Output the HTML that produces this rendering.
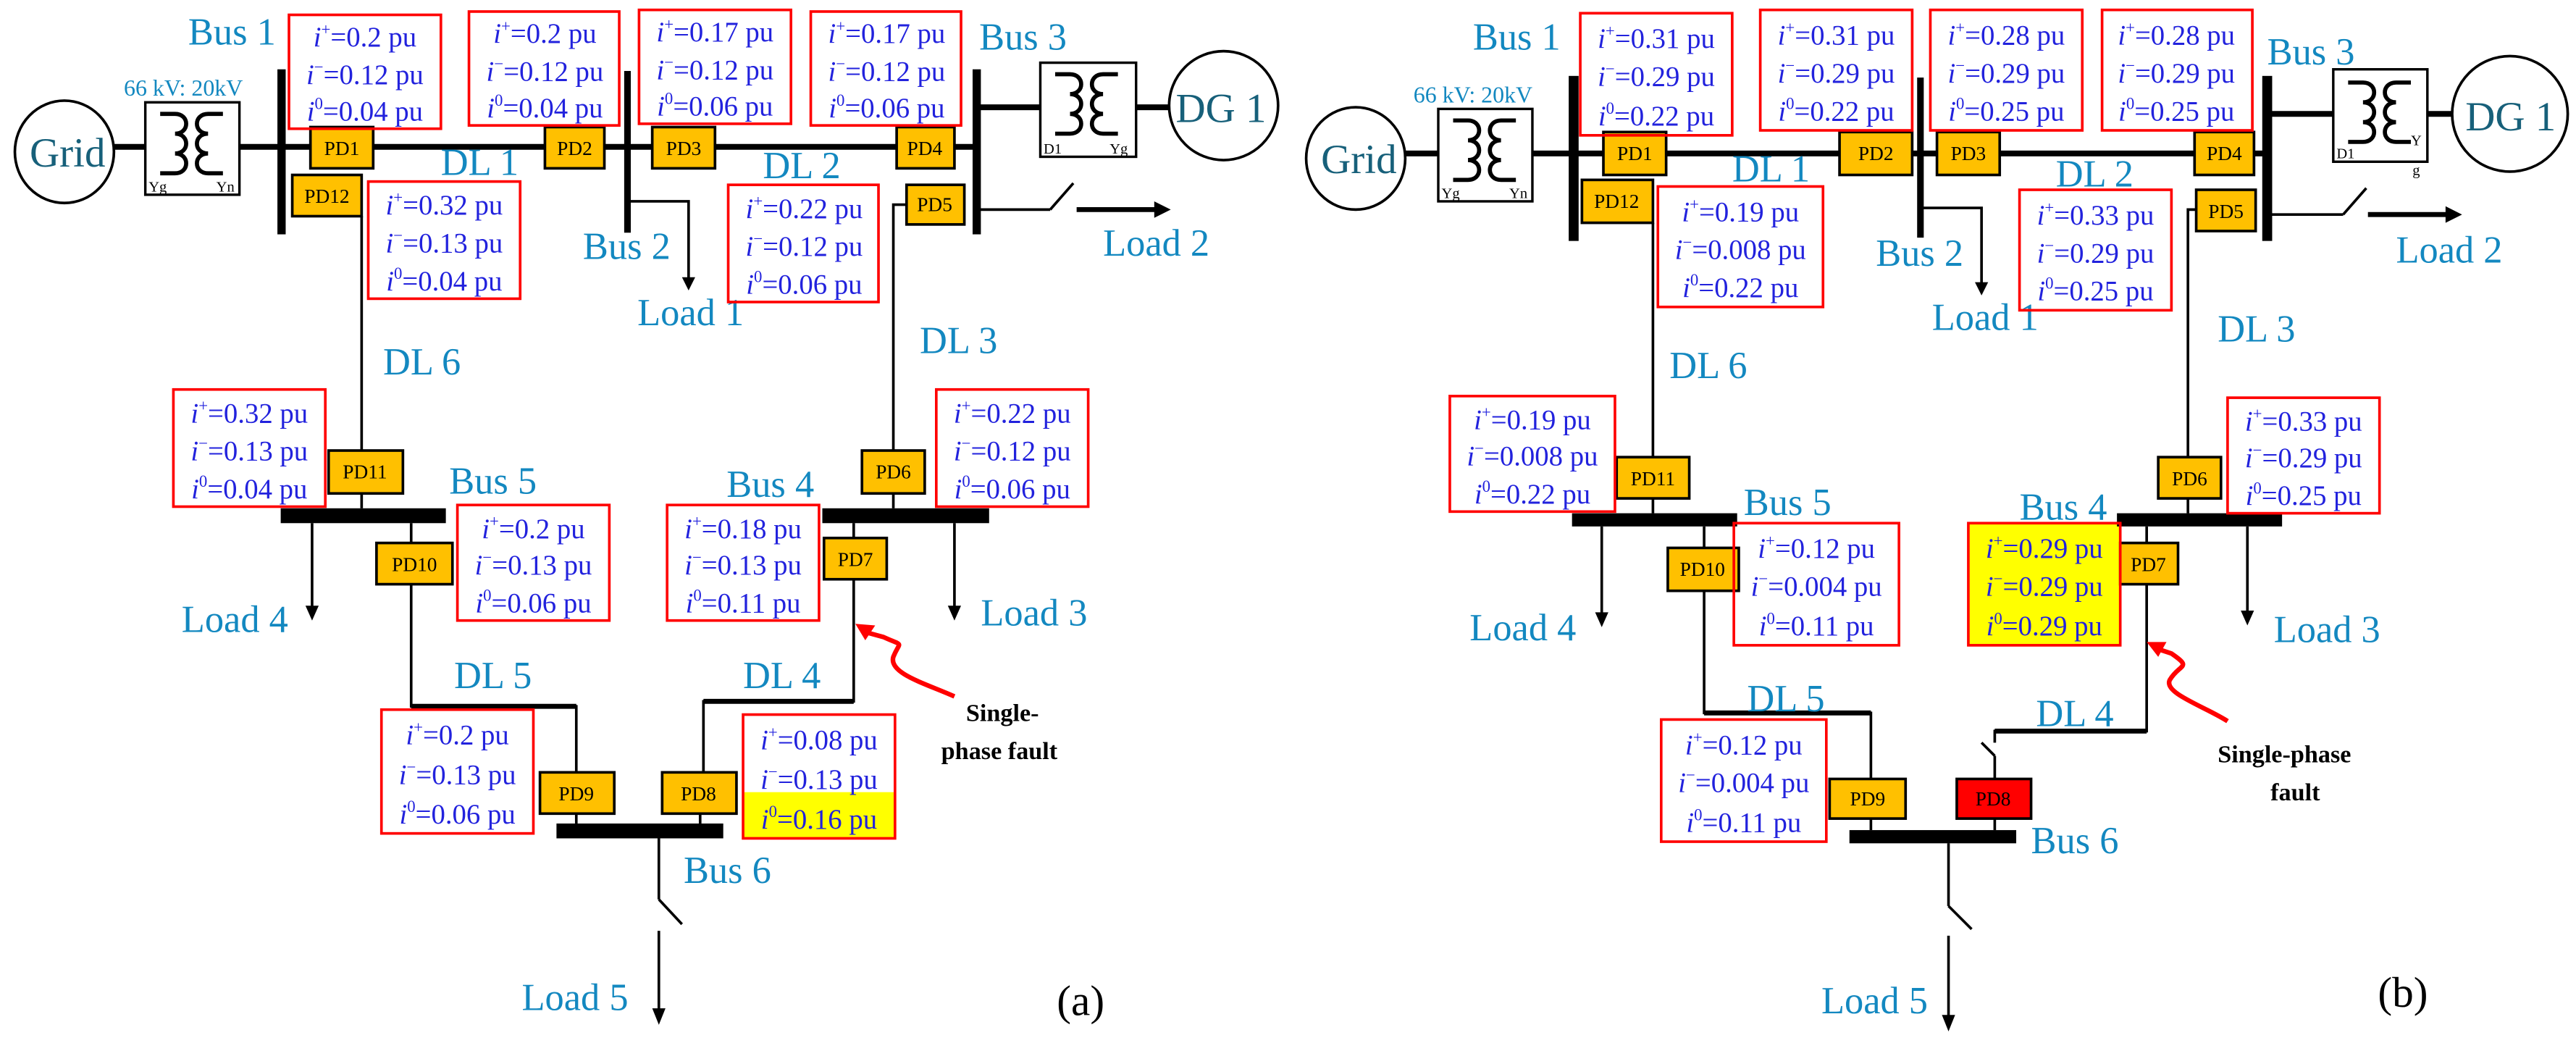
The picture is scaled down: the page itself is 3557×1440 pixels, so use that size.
<!DOCTYPE html>
<html><head><meta charset="utf-8"><style>
html,body{margin:0;padding:0;background:#fff;}
svg{display:block;font-family:"Liberation Serif","Times New Roman",Times,serif}
text{font-family:"Liberation Serif","Times New Roman",Times,serif}
.lb{font-size:23px;fill:#1388c0}
.gd{font-size:25px;fill:#17607a}
.bx{fill:none;stroke:#f00;stroke-width:1.6}
.t{font-size:17px;fill:#2222dd;text-anchor:middle}
.t .i{font-style:italic}
.pd{fill:#ffc000;stroke:#000;stroke-width:1.6}
.pt{font-size:12px;fill:#000;text-anchor:middle}
.ln{stroke:#000;fill:none}
.fb{font-size:15px;font-weight:bold;fill:#000}
.sm{font-size:9px;fill:#000}
</style></head><body>
<svg width="3557" height="1440" viewBox="0 0 1560 632" preserveAspectRatio="none" xmlns="http://www.w3.org/2000/svg" font-family="Liberation Serif, Times New Roman, serif">
<rect x="450" y="480" width="92" height="28" fill="#ff0"/>
<rect x="1192" y="317" width="92" height="74" fill="#ff0"/>
<!-- ================= PANEL A ================= -->
<g class="ln">
<ellipse cx="39" cy="92" rx="30" ry="31" stroke-width="1.6"/>
<line x1="69" y1="89" x2="88" y2="89" stroke-width="3.5"/>
<rect x="88" y="62" width="57" height="56" stroke-width="1.5"/>
<path d="M97,69 h9 c9,0 9,12 0,12 c9,0 9,12 0,12 c9,0 9,12 0,12 h-9" stroke-width="2.5"/>
<path d="M135,69 h-9 c-9,0 -9,12 0,12 c-9,0 -9,12 0,12 c-9,0 -9,12 0,12 h9" stroke-width="2.5"/>
<line x1="145" y1="89" x2="591" y2="89" stroke-width="3.5"/>
<line x1="219" y1="131" x2="219" y2="308" stroke-width="1.6"/>
<polyline points="380,122 417,122 417,170" stroke-width="1.6"/>
<polyline points="549,124 541,124 541,308" stroke-width="1.6"/>
<line x1="591" y1="127" x2="636" y2="127" stroke-width="1.6"/>
<line x1="636" y1="127" x2="650" y2="111" stroke-width="1.6"/>
<line x1="652" y1="127" x2="700" y2="127" stroke-width="3"/>
<line x1="591" y1="65" x2="630" y2="65" stroke-width="3.5"/>
<rect x="630" y="38" width="58" height="57" stroke-width="1.5"/>
<path d="M639,45 h9 c9,0 9,12 0,12 c9,0 9,12 0,12 c9,0 9,12 0,12 h-9" stroke-width="2.5"/>
<path d="M677,45 h-9 c-9,0 -9,12 0,12 c-9,0 -9,12 0,12 c-9,0 -9,12 0,12 h9" stroke-width="2.5"/>
<line x1="688" y1="65" x2="708" y2="65" stroke-width="3.5"/>
<ellipse cx="741" cy="64" rx="33" ry="33" stroke-width="1.6"/>
<line x1="189" y1="317" x2="189" y2="368" stroke-width="1.6"/>
<polyline points="249,317 249,428 349,428 349,468" stroke-width="1.6"/>
<line x1="249" y1="428" x2="349" y2="428" stroke-width="3"/>
<line x1="578" y1="317" x2="578" y2="368" stroke-width="1.6"/>
<polyline points="517,317 517,425 426,425 426,468" stroke-width="1.6"/>
<line x1="517" y1="425" x2="426" y2="425" stroke-width="3"/>
<line x1="349" y1="493" x2="349" y2="499" stroke-width="1.6"/>
<line x1="424" y1="493" x2="424" y2="499" stroke-width="1.6"/>
<line x1="399" y1="508" x2="399" y2="545" stroke-width="1.6"/>
<line x1="399" y1="545" x2="413" y2="560" stroke-width="1.6"/>
<line x1="399" y1="564" x2="399" y2="612" stroke-width="1.6"/>
</g>
<rect x="168" y="42" width="5" height="100"/>
<rect x="378" y="43" width="4" height="98"/>
<rect x="589" y="42" width="5" height="100"/>
<rect x="170" y="308" width="100" height="9"/>
<rect x="498" y="308" width="101" height="9"/>
<rect x="337" y="499" width="101" height="9"/>
<polygon points="413,168 421,168 417,176"/>
<polygon points="699,122 699,132 709,127"/>
<polygon points="185,367 193,367 189,376"/>
<polygon points="574,367 582,367 578,376"/>
<polygon points="395,611 403,611 399,621"/>
<path d="M578,422 C560,414 538,408 541,398 C545,388 548,392 535,386 L524,383" fill="none" stroke="#f00" stroke-width="2.8"/>
<polygon points="518,378 530,379 524,388" fill="#f00"/>
<text class="gd" x="18" y="101">Grid</text>
<text class="gd" x="712" y="74">DG 1</text>
<text class="lb" x="75" y="58" style="font-size:14px">66 kV: 20kV</text>
<text class="sm" x="90" y="116">Yg</text>
<text class="sm" x="131" y="116">Yn</text>
<text class="sm" x="632" y="93">D1</text>
<text class="sm" x="672" y="93">Yg</text>
<text class="lb" x="114" y="27">Bus 1</text>
<text class="lb" x="593" y="30">Bus 3</text>
<text class="lb" x="267" y="106">DL 1</text>
<text class="lb" x="462" y="108">DL 2</text>
<text class="lb" x="353" y="157">Bus 2</text>
<text class="lb" x="386" y="197">Load 1</text>
<text class="lb" x="668" y="155">Load 2</text>
<text class="lb" x="557" y="214">DL 3</text>
<text class="lb" x="232" y="227">DL 6</text>
<text class="lb" x="272" y="299">Bus 5</text>
<text class="lb" x="440" y="301">Bus 4</text>
<text class="lb" x="110" y="383">Load 4</text>
<text class="lb" x="594" y="379">Load 3</text>
<text class="lb" x="275" y="417">DL 5</text>
<text class="lb" x="450" y="417">DL 4</text>
<text class="lb" x="414" y="535">Bus 6</text>
<text class="lb" x="316" y="612">Load 5</text>
<text class="fb" x="585" y="437">Single-</text>
<text class="fb" x="570" y="460">phase fault</text>
<text x="640" y="615" style="font-size:26px">(a)</text>
<!-- PD boxes A -->
<rect class="pd" x="188" y="77" width="38" height="25"/><text class="pt" x="207" y="94">PD1</text>
<rect class="pd" x="330" y="77" width="36" height="25"/><text class="pt" x="348" y="94">PD2</text>
<rect class="pd" x="395" y="77" width="38" height="25"/><text class="pt" x="414" y="94">PD3</text>
<rect class="pd" x="543" y="77" width="35" height="25"/><text class="pt" x="560" y="94">PD4</text>
<rect class="pd" x="177" y="106" width="42" height="25"/><text class="pt" x="198" y="123">PD12</text>
<rect class="pd" x="549" y="112" width="35" height="24"/><text class="pt" x="566" y="128">PD5</text>
<rect class="pd" x="199" y="273" width="45" height="26"/><text class="pt" x="221" y="290">PD11</text>
<rect class="pd" x="522" y="273" width="38" height="26"/><text class="pt" x="541" y="290">PD6</text>
<rect class="pd" x="228" y="329" width="46" height="25"/><text class="pt" x="251" y="346">PD10</text>
<rect class="pd" x="499" y="326" width="38" height="25"/><text class="pt" x="518" y="343">PD7</text>
<rect class="pd" x="327" y="468" width="45" height="25"/><text class="pt" x="349" y="485">PD9</text>
<rect class="pd" x="401" y="468" width="45" height="25"/><text class="pt" x="423" y="485">PD8</text>
<!-- value boxes A -->
<rect class="bx" x="175" y="9" width="92" height="69"/>
<text class="t" x="221" y="28"><tspan class="i">i</tspan><tspan dy="-7" font-size="10">+</tspan><tspan dy="7">=0.2 pu</tspan></text>
<text class="t" x="221" y="51"><tspan class="i">i</tspan><tspan dy="-7" font-size="10">−</tspan><tspan dy="7">=0.12 pu</tspan></text>
<text class="t" x="221" y="73"><tspan class="i">i</tspan><tspan dy="-7" font-size="10">0</tspan><tspan dy="7">=0.04 pu</tspan></text>
<rect class="bx" x="284" y="7" width="91" height="69"/>
<text class="t" x="330" y="26"><tspan class="i">i</tspan><tspan dy="-7" font-size="10">+</tspan><tspan dy="7">=0.2 pu</tspan></text>
<text class="t" x="330" y="49"><tspan class="i">i</tspan><tspan dy="-7" font-size="10">−</tspan><tspan dy="7">=0.12 pu</tspan></text>
<text class="t" x="330" y="71"><tspan class="i">i</tspan><tspan dy="-7" font-size="10">0</tspan><tspan dy="7">=0.04 pu</tspan></text>
<rect class="bx" x="387" y="6" width="92" height="69"/>
<text class="t" x="433" y="25"><tspan class="i">i</tspan><tspan dy="-7" font-size="10">+</tspan><tspan dy="7">=0.17 pu</tspan></text>
<text class="t" x="433" y="48"><tspan class="i">i</tspan><tspan dy="-7" font-size="10">−</tspan><tspan dy="7">=0.12 pu</tspan></text>
<text class="t" x="433" y="70"><tspan class="i">i</tspan><tspan dy="-7" font-size="10">0</tspan><tspan dy="7">=0.06 pu</tspan></text>
<rect class="bx" x="491" y="7" width="91" height="69"/>
<text class="t" x="537" y="26"><tspan class="i">i</tspan><tspan dy="-7" font-size="10">+</tspan><tspan dy="7">=0.17 pu</tspan></text>
<text class="t" x="537" y="49"><tspan class="i">i</tspan><tspan dy="-7" font-size="10">−</tspan><tspan dy="7">=0.12 pu</tspan></text>
<text class="t" x="537" y="71"><tspan class="i">i</tspan><tspan dy="-7" font-size="10">0</tspan><tspan dy="7">=0.06 pu</tspan></text>
<rect class="bx" x="223" y="110" width="92" height="71"/>
<text class="t" x="269" y="130"><tspan class="i">i</tspan><tspan dy="-7" font-size="10">+</tspan><tspan dy="7">=0.32 pu</tspan></text>
<text class="t" x="269" y="153"><tspan class="i">i</tspan><tspan dy="-7" font-size="10">−</tspan><tspan dy="7">=0.13 pu</tspan></text>
<text class="t" x="269" y="176"><tspan class="i">i</tspan><tspan dy="-7" font-size="10">0</tspan><tspan dy="7">=0.04 pu</tspan></text>
<rect class="bx" x="441" y="112" width="91" height="71"/>
<text class="t" x="487" y="132"><tspan class="i">i</tspan><tspan dy="-7" font-size="10">+</tspan><tspan dy="7">=0.22 pu</tspan></text>
<text class="t" x="487" y="155"><tspan class="i">i</tspan><tspan dy="-7" font-size="10">−</tspan><tspan dy="7">=0.12 pu</tspan></text>
<text class="t" x="487" y="178"><tspan class="i">i</tspan><tspan dy="-7" font-size="10">0</tspan><tspan dy="7">=0.06 pu</tspan></text>
<rect class="bx" x="105" y="236" width="92" height="71"/>
<text class="t" x="151" y="256"><tspan class="i">i</tspan><tspan dy="-7" font-size="10">+</tspan><tspan dy="7">=0.32 pu</tspan></text>
<text class="t" x="151" y="279"><tspan class="i">i</tspan><tspan dy="-7" font-size="10">−</tspan><tspan dy="7">=0.13 pu</tspan></text>
<text class="t" x="151" y="302"><tspan class="i">i</tspan><tspan dy="-7" font-size="10">0</tspan><tspan dy="7">=0.04 pu</tspan></text>
<rect class="bx" x="567" y="236" width="92" height="71"/>
<text class="t" x="613" y="256"><tspan class="i">i</tspan><tspan dy="-7" font-size="10">+</tspan><tspan dy="7">=0.22 pu</tspan></text>
<text class="t" x="613" y="279"><tspan class="i">i</tspan><tspan dy="-7" font-size="10">−</tspan><tspan dy="7">=0.12 pu</tspan></text>
<text class="t" x="613" y="302"><tspan class="i">i</tspan><tspan dy="-7" font-size="10">0</tspan><tspan dy="7">=0.06 pu</tspan></text>
<rect class="bx" x="277" y="306" width="92" height="70"/>
<text class="t" x="323" y="326"><tspan class="i">i</tspan><tspan dy="-7" font-size="10">+</tspan><tspan dy="7">=0.2 pu</tspan></text>
<text class="t" x="323" y="348"><tspan class="i">i</tspan><tspan dy="-7" font-size="10">−</tspan><tspan dy="7">=0.13 pu</tspan></text>
<text class="t" x="323" y="371"><tspan class="i">i</tspan><tspan dy="-7" font-size="10">0</tspan><tspan dy="7">=0.06 pu</tspan></text>
<rect class="bx" x="404" y="306" width="92" height="70"/>
<text class="t" x="450" y="326"><tspan class="i">i</tspan><tspan dy="-7" font-size="10">+</tspan><tspan dy="7">=0.18 pu</tspan></text>
<text class="t" x="450" y="348"><tspan class="i">i</tspan><tspan dy="-7" font-size="10">−</tspan><tspan dy="7">=0.13 pu</tspan></text>
<text class="t" x="450" y="371"><tspan class="i">i</tspan><tspan dy="-7" font-size="10">0</tspan><tspan dy="7">=0.11 pu</tspan></text>
<rect class="bx" x="231" y="430" width="92" height="75"/>
<text class="t" x="277" y="451"><tspan class="i">i</tspan><tspan dy="-7" font-size="10">+</tspan><tspan dy="7">=0.2 pu</tspan></text>
<text class="t" x="277" y="475"><tspan class="i">i</tspan><tspan dy="-7" font-size="10">−</tspan><tspan dy="7">=0.13 pu</tspan></text>
<text class="t" x="277" y="499"><tspan class="i">i</tspan><tspan dy="-7" font-size="10">0</tspan><tspan dy="7">=0.06 pu</tspan></text>
<rect class="bx" x="450" y="433" width="92" height="75"/>
<text class="t" x="496" y="454"><tspan class="i">i</tspan><tspan dy="-7" font-size="10">+</tspan><tspan dy="7">=0.08 pu</tspan></text>
<text class="t" x="496" y="478"><tspan class="i">i</tspan><tspan dy="-7" font-size="10">−</tspan><tspan dy="7">=0.13 pu</tspan></text>
<text class="t" x="496" y="502"><tspan class="i">i</tspan><tspan dy="-7" font-size="10">0</tspan><tspan dy="7">=0.16 pu</tspan></text>

<!-- ================= PANEL B ================= -->
<g class="ln">
<ellipse cx="821" cy="96" rx="30" ry="31" stroke-width="1.6"/>
<line x1="851" y1="93" x2="871" y2="93" stroke-width="3.5"/>
<rect x="871" y="66" width="57" height="56" stroke-width="1.5"/>
<path d="M880,73 h9 c9,0 9,12 0,12 c9,0 9,12 0,12 c9,0 9,12 0,12 h-9" stroke-width="2.5"/>
<path d="M918,73 h-9 c-9,0 -9,12 0,12 c-9,0 -9,12 0,12 c-9,0 -9,12 0,12 h9" stroke-width="2.5"/>
<line x1="928" y1="93" x2="1373" y2="93" stroke-width="3.5"/>
<line x1="1001" y1="135" x2="1001" y2="311" stroke-width="1.6"/>
<polyline points="1163,126 1200,126 1200,172" stroke-width="1.6"/>
<polyline points="1330,127 1325,127 1325,311" stroke-width="1.6"/>
<line x1="1373" y1="130" x2="1419" y2="130" stroke-width="1.6"/>
<line x1="1419" y1="130" x2="1433" y2="114" stroke-width="1.6"/>
<line x1="1434" y1="130" x2="1482" y2="130" stroke-width="3"/>
<line x1="1373" y1="69" x2="1413" y2="69" stroke-width="3.5"/>
<rect x="1413" y="42" width="57" height="56" stroke-width="1.5"/>
<path d="M1422,50 h9 c9,0 9,12 0,12 c9,0 9,12 0,12 c9,0 9,12 0,12 h-9" stroke-width="2.5"/>
<path d="M1460,50 h-9 c-9,0 -9,12 0,12 c-9,0 -9,12 0,12 c-9,0 -9,12 0,12 h9" stroke-width="2.5"/>
<line x1="1470" y1="69" x2="1485" y2="69" stroke-width="3.5"/>
<ellipse cx="1520" cy="69" rx="35" ry="35" stroke-width="1.6"/>
<line x1="970" y1="319" x2="970" y2="372" stroke-width="1.6"/>
<polyline points="1032,319 1032,432 1133,432 1133,472" stroke-width="1.6"/>
<line x1="1032" y1="432" x2="1133" y2="432" stroke-width="3"/>
<line x1="1361" y1="319" x2="1361" y2="371" stroke-width="1.6"/>
<polyline points="1300,319 1300,443 1208,443 1208,450" stroke-width="1.6"/>
<line x1="1300" y1="443" x2="1208" y2="443" stroke-width="3"/>
<line x1="1200" y1="450" x2="1208" y2="458" stroke-width="1.6"/>
<line x1="1208" y1="458" x2="1208" y2="472" stroke-width="1.6"/>
<line x1="1133" y1="496" x2="1133" y2="503" stroke-width="1.6"/>
<line x1="1208" y1="496" x2="1208" y2="503" stroke-width="1.6"/>
<line x1="1180" y1="511" x2="1180" y2="549" stroke-width="1.6"/>
<line x1="1180" y1="549" x2="1194" y2="563" stroke-width="1.6"/>
<line x1="1180" y1="567" x2="1180" y2="616" stroke-width="1.6"/>
</g>
<rect x="950" y="46" width="6" height="100"/>
<rect x="1161" y="47" width="4" height="97"/>
<rect x="1370" y="46" width="6" height="100"/>
<rect x="952" y="311" width="100" height="8"/>
<rect x="1282" y="311" width="100" height="8"/>
<rect x="1120" y="503" width="101" height="8"/>
<polygon points="1196,171 1204,171 1200,179"/>
<polygon points="1481,125 1481,135 1491,130"/>
<polygon points="966,371 974,371 970,380"/>
<polygon points="1357,370 1365,370 1361,379"/>
<polygon points="1176,615 1184,615 1180,625"/>
<path d="M1349,437 C1335,428 1310,420 1314,412 C1320,402 1328,405 1315,396 L1306,393" fill="none" stroke="#f00" stroke-width="2.8"/>
<polygon points="1300,389 1312,389 1307,398" fill="#f00"/>
<text class="gd" x="800" y="105">Grid</text>
<text class="gd" x="1493" y="79">DG 1</text>
<text class="lb" x="856" y="62" style="font-size:14px">66 kV: 20kV</text>
<text class="sm" x="873" y="120">Yg</text>
<text class="sm" x="914" y="120">Yn</text>
<text class="sm" x="1415" y="96">D1</text>
<text class="sm" x="1460" y="88">Y</text>
<text class="sm" x="1461" y="106">g</text>
<text class="lb" x="892" y="30">Bus 1</text>
<text class="lb" x="1373" y="39">Bus 3</text>
<text class="lb" x="1049" y="110">DL 1</text>
<text class="lb" x="1245" y="113">DL 2</text>
<text class="lb" x="1136" y="161">Bus 2</text>
<text class="lb" x="1170" y="200">Load 1</text>
<text class="lb" x="1451" y="159">Load 2</text>
<text class="lb" x="1343" y="207">DL 3</text>
<text class="lb" x="1011" y="229">DL 6</text>
<text class="lb" x="1056" y="312">Bus 5</text>
<text class="lb" x="1223" y="315">Bus 4</text>
<text class="lb" x="890" y="388">Load 4</text>
<text class="lb" x="1377" y="389">Load 3</text>
<text class="lb" x="1058" y="431">DL 5</text>
<text class="lb" x="1233" y="440">DL 4</text>
<text class="lb" x="1230" y="517">Bus 6</text>
<text class="lb" x="1103" y="614">Load 5</text>
<text class="fb" x="1343" y="462">Single-phase</text>
<text class="fb" x="1375" y="485">fault</text>
<text x="1440" y="610" style="font-size:26px">(b)</text>
<!-- PD boxes B -->
<rect class="pd" x="971" y="80" width="38" height="26"/><text class="pt" x="990" y="97">PD1</text>
<rect class="pd" x="1114" y="80" width="44" height="26"/><text class="pt" x="1136" y="97">PD2</text>
<rect class="pd" x="1173" y="80" width="38" height="26"/><text class="pt" x="1192" y="97">PD3</text>
<rect class="pd" x="1329" y="80" width="36" height="26"/><text class="pt" x="1347" y="97">PD4</text>
<rect class="pd" x="958" y="109" width="43" height="26"/><text class="pt" x="979" y="126">PD12</text>
<rect class="pd" x="1330" y="115" width="36" height="25"/><text class="pt" x="1348" y="132">PD5</text>
<rect class="pd" x="979" y="277" width="44" height="25"/><text class="pt" x="1001" y="294">PD11</text>
<rect class="pd" x="1307" y="277" width="38" height="25"/><text class="pt" x="1326" y="294">PD6</text>
<rect class="pd" x="1010" y="332" width="43" height="26"/><text class="pt" x="1031" y="349">PD10</text>
<rect class="pd" x="1284" y="329" width="35" height="25"/><text class="pt" x="1301" y="346">PD7</text>
<rect class="pd" x="1108" y="472" width="46" height="24"/><text class="pt" x="1131" y="488">PD9</text>
<rect x="1185" y="472" width="45" height="24" fill="#f00" stroke="#000" stroke-width="1.6"/><text class="pt" x="1207" y="488">PD8</text>
<!-- value boxes B -->
<rect class="bx" x="957" y="8" width="92" height="74"/>
<text class="t" x="1003" y="29"><tspan class="i">i</tspan><tspan dy="-7" font-size="10">+</tspan><tspan dy="7">=0.31 pu</tspan></text>
<text class="t" x="1003" y="52"><tspan class="i">i</tspan><tspan dy="-7" font-size="10">−</tspan><tspan dy="7">=0.29 pu</tspan></text>
<text class="t" x="1003" y="76"><tspan class="i">i</tspan><tspan dy="-7" font-size="10">0</tspan><tspan dy="7">=0.22 pu</tspan></text>
<rect class="bx" x="1066" y="6" width="92" height="73"/>
<text class="t" x="1112" y="27"><tspan class="i">i</tspan><tspan dy="-7" font-size="10">+</tspan><tspan dy="7">=0.31 pu</tspan></text>
<text class="t" x="1112" y="50"><tspan class="i">i</tspan><tspan dy="-7" font-size="10">−</tspan><tspan dy="7">=0.29 pu</tspan></text>
<text class="t" x="1112" y="73"><tspan class="i">i</tspan><tspan dy="-7" font-size="10">0</tspan><tspan dy="7">=0.22 pu</tspan></text>
<rect class="bx" x="1169" y="6" width="92" height="73"/>
<text class="t" x="1215" y="27"><tspan class="i">i</tspan><tspan dy="-7" font-size="10">+</tspan><tspan dy="7">=0.28 pu</tspan></text>
<text class="t" x="1215" y="50"><tspan class="i">i</tspan><tspan dy="-7" font-size="10">−</tspan><tspan dy="7">=0.29 pu</tspan></text>
<text class="t" x="1215" y="73"><tspan class="i">i</tspan><tspan dy="-7" font-size="10">0</tspan><tspan dy="7">=0.25 pu</tspan></text>
<rect class="bx" x="1273" y="6" width="91" height="73"/>
<text class="t" x="1318" y="27"><tspan class="i">i</tspan><tspan dy="-7" font-size="10">+</tspan><tspan dy="7">=0.28 pu</tspan></text>
<text class="t" x="1318" y="50"><tspan class="i">i</tspan><tspan dy="-7" font-size="10">−</tspan><tspan dy="7">=0.29 pu</tspan></text>
<text class="t" x="1318" y="73"><tspan class="i">i</tspan><tspan dy="-7" font-size="10">0</tspan><tspan dy="7">=0.25 pu</tspan></text>
<rect class="bx" x="1004" y="113" width="100" height="73"/>
<text class="t" x="1054" y="134"><tspan class="i">i</tspan><tspan dy="-7" font-size="10">+</tspan><tspan dy="7">=0.19 pu</tspan></text>
<text class="t" x="1054" y="157"><tspan class="i">i</tspan><tspan dy="-7" font-size="10">−</tspan><tspan dy="7">=0.008 pu</tspan></text>
<text class="t" x="1054" y="180"><tspan class="i">i</tspan><tspan dy="-7" font-size="10">0</tspan><tspan dy="7">=0.22 pu</tspan></text>
<rect class="bx" x="1223" y="115" width="92" height="73"/>
<text class="t" x="1269" y="136"><tspan class="i">i</tspan><tspan dy="-7" font-size="10">+</tspan><tspan dy="7">=0.33 pu</tspan></text>
<text class="t" x="1269" y="159"><tspan class="i">i</tspan><tspan dy="-7" font-size="10">−</tspan><tspan dy="7">=0.29 pu</tspan></text>
<text class="t" x="1269" y="182"><tspan class="i">i</tspan><tspan dy="-7" font-size="10">0</tspan><tspan dy="7">=0.25 pu</tspan></text>
<rect class="bx" x="878" y="240" width="100" height="70"/>
<text class="t" x="928" y="260"><tspan class="i">i</tspan><tspan dy="-7" font-size="10">+</tspan><tspan dy="7">=0.19 pu</tspan></text>
<text class="t" x="928" y="282"><tspan class="i">i</tspan><tspan dy="-7" font-size="10">−</tspan><tspan dy="7">=0.008 pu</tspan></text>
<text class="t" x="928" y="305"><tspan class="i">i</tspan><tspan dy="-7" font-size="10">0</tspan><tspan dy="7">=0.22 pu</tspan></text>
<rect class="bx" x="1349" y="241" width="92" height="70"/>
<text class="t" x="1395" y="261"><tspan class="i">i</tspan><tspan dy="-7" font-size="10">+</tspan><tspan dy="7">=0.33 pu</tspan></text>
<text class="t" x="1395" y="283"><tspan class="i">i</tspan><tspan dy="-7" font-size="10">−</tspan><tspan dy="7">=0.29 pu</tspan></text>
<text class="t" x="1395" y="306"><tspan class="i">i</tspan><tspan dy="-7" font-size="10">0</tspan><tspan dy="7">=0.25 pu</tspan></text>
<rect class="bx" x="1050" y="317" width="100" height="74"/>
<text class="t" x="1100" y="338"><tspan class="i">i</tspan><tspan dy="-7" font-size="10">+</tspan><tspan dy="7">=0.12 pu</tspan></text>
<text class="t" x="1100" y="361"><tspan class="i">i</tspan><tspan dy="-7" font-size="10">−</tspan><tspan dy="7">=0.004 pu</tspan></text>
<text class="t" x="1100" y="385"><tspan class="i">i</tspan><tspan dy="-7" font-size="10">0</tspan><tspan dy="7">=0.11 pu</tspan></text>
<rect class="bx" x="1192" y="317" width="92" height="74"/>
<text class="t" x="1238" y="338"><tspan class="i">i</tspan><tspan dy="-7" font-size="10">+</tspan><tspan dy="7">=0.29 pu</tspan></text>
<text class="t" x="1238" y="361"><tspan class="i">i</tspan><tspan dy="-7" font-size="10">−</tspan><tspan dy="7">=0.29 pu</tspan></text>
<text class="t" x="1238" y="385"><tspan class="i">i</tspan><tspan dy="-7" font-size="10">0</tspan><tspan dy="7">=0.29 pu</tspan></text>
<rect class="bx" x="1006" y="436" width="100" height="74"/>
<text class="t" x="1056" y="457"><tspan class="i">i</tspan><tspan dy="-7" font-size="10">+</tspan><tspan dy="7">=0.12 pu</tspan></text>
<text class="t" x="1056" y="480"><tspan class="i">i</tspan><tspan dy="-7" font-size="10">−</tspan><tspan dy="7">=0.004 pu</tspan></text>
<text class="t" x="1056" y="504"><tspan class="i">i</tspan><tspan dy="-7" font-size="10">0</tspan><tspan dy="7">=0.11 pu</tspan></text>
</svg>
</body></html>
